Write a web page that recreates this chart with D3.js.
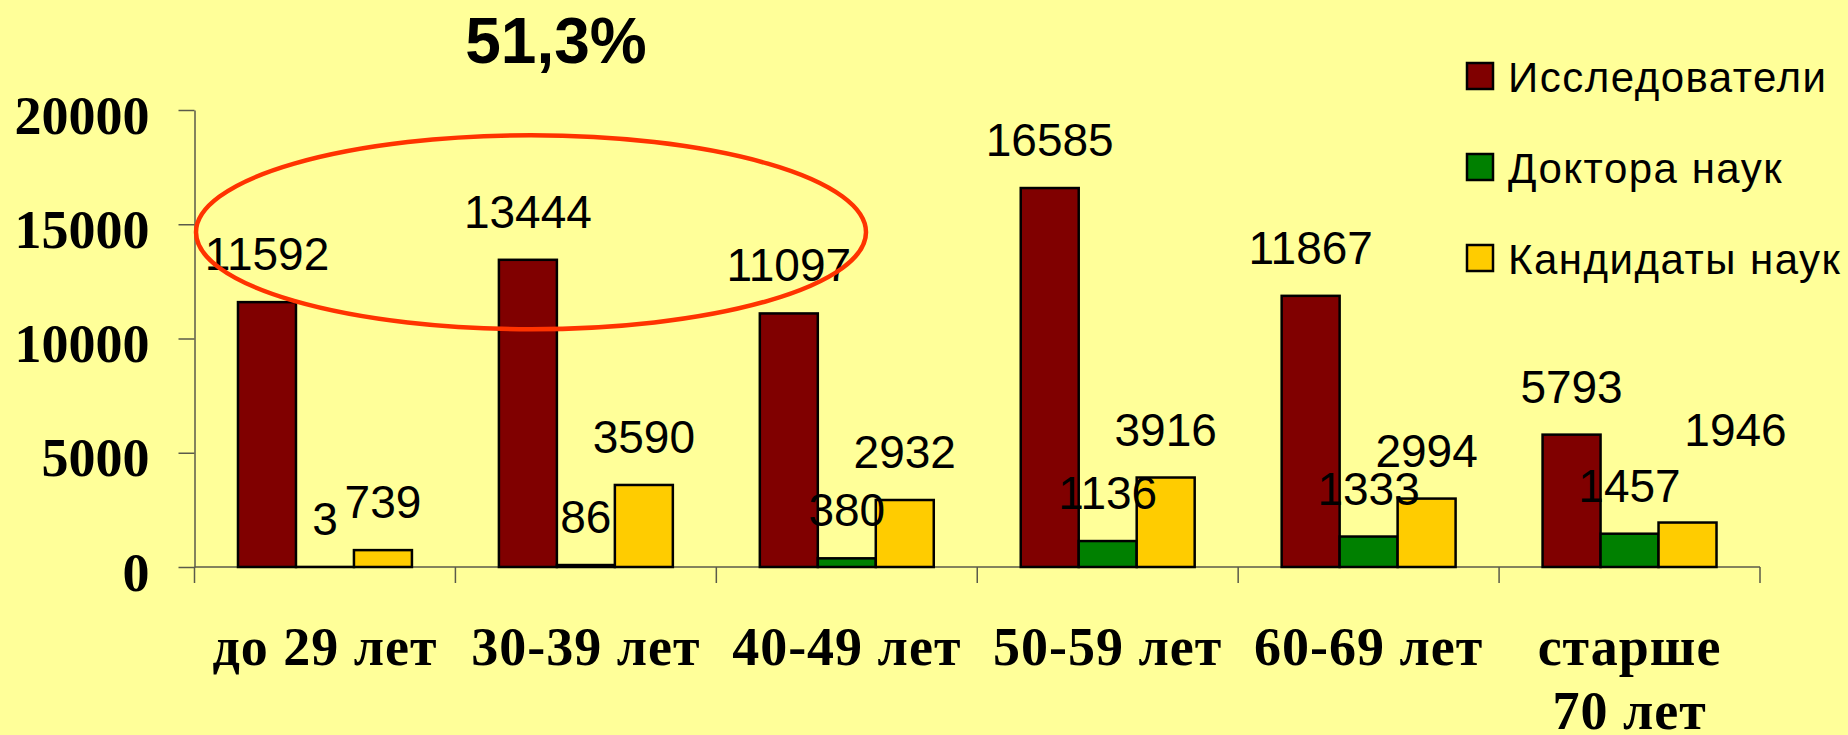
<!DOCTYPE html>
<html lang="ru">
<head>
  <meta charset="UTF-8">
  <title>Исследователи по возрасту</title>
  <script src="https://d3js.org/d3.v7.min.js"></script>
  <style>
    body {
      margin: 0;
      background: #ffff99;
    }
    .value {
      font-family: "Liberation Sans", Arial, sans-serif;
      font-size: 46px;
      text-anchor: middle;
      fill: #000;
    }
    .cat {
      font-family: "Liberation Serif", "Times New Roman", serif;
      font-weight: bold;
      font-size: 54px;
      text-anchor: middle;
      letter-spacing: 1px;
    }
    .legend text {
      font-family: "Liberation Sans", Arial, sans-serif;
      font-size: 42px;
      letter-spacing: 1.5px;
    }
  </style>
</head>
<body>
  <div id="chart"></div>

  <script>
    const categories = ["до 29 лет", "30-39 лет", "40-49 лет", "50-59 лет", "60-69 лет", "старше\n70 лет"];
    const seriesNames = ["Исследователи", "Доктора наук", "Кандидаты наук"];
    const researchers = [11592, 13444, 11097, 16585, 11867, 5793];
    const doctors = [3, 86, 380, 1136, 1333, 1457];
    const candidates = [739, 3590, 2932, 3916, 2994, 1946];
    const yTicks = [0, 5000, 10000, 15000, 20000];
    const highlight = "51,3%";

    const colors = ["#800000", "#008000", "#ffcc00"];
    const seriesValues = [researchers, doctors, candidates];

    // one label was dragged away from its bar in the original
    const labelNudge = {"2-5": [48, -45]};

    const W = 1848, H = 735;
    const svg = d3.select("#chart")
      .append("svg")
      .attr("width", W)
      .attr("height", H);

    svg.append("rect")
      .attr("width", W)
      .attr("height", H)
      .attr("fill", "#ffff99");

    const x = d3.scaleBand()
      .domain(categories)
      .range([194.5, 1760]);

    const xs = d3.scaleBand()
      .domain(seriesNames)
      .range([0, x.bandwidth()])
      .paddingInner(0)
      .paddingOuter(0.75);

    const y = d3.scaleLinear()
      .domain([0, 20000])
      .range([567, 110]);

    const axisColor = "#5a5a4a";

    // y axis
    const yAxis = svg.append("g")
      .attr("transform", `translate(${x.range()[0]},0)`)
      .call(d3.axisLeft(y)
        .tickValues(yTicks)
        .tickSize(16)
        .tickSizeOuter(0)
        .tickPadding(29)
        .tickFormat(d3.format("d")));
    yAxis.select(".domain").attr("stroke", axisColor).attr("stroke-width", 1.5);
    yAxis.selectAll(".tick line").attr("stroke", axisColor).attr("stroke-width", 1.5);
    yAxis.selectAll(".tick text")
      .attr("dy", "0.43em")
      .attr("fill", "#000")
      .style("font-family", "'Liberation Serif', 'Times New Roman', serif")
      .style("font-weight", "bold")
      .style("font-size", "54px");

    // x axis: line plus tick marks at band edges
    const xAxis = svg.append("g");
    const edges = categories.map(c => x(c)).concat([x.range()[1]]);
    xAxis.append("line")
      .attr("x1", x.range()[0])
      .attr("x2", x.range()[1])
      .attr("y1", y(0))
      .attr("y2", y(0))
      .attr("stroke", axisColor)
      .attr("stroke-width", 1.5);
    xAxis.selectAll(".xt")
      .data(edges)
      .join("line")
      .attr("class", "xt")
      .attr("x1", d => d)
      .attr("x2", d => d)
      .attr("y1", y(0))
      .attr("y2", y(0) + 16)
      .attr("stroke", axisColor)
      .attr("stroke-width", 1.5);

    // bars
    const rows = [];
    seriesValues.forEach((vals, s) => {
      vals.forEach((v, i) => rows.push({s, i, cat: categories[i], name: seriesNames[s], value: v}));
    });

    const barG = svg.append("g");
    barG.selectAll("rect")
      .data(rows)
      .join("rect")
      .attr("x", d => x(d.cat) + xs(d.name))
      .attr("width", xs.bandwidth())
      .attr("y", d => y(d.value))
      .attr("height", d => y(0) - y(d.value))
      .attr("fill", d => colors[d.s])
      .attr("stroke", "#000")
      .attr("stroke-width", 2.5);

    // value labels
    svg.append("g").selectAll("text")
      .data(rows)
      .join("text")
      .attr("class", "value")
      .attr("x", d => x(d.cat) + xs(d.name) + xs.bandwidth() / 2 + (labelNudge[d.s + "-" + d.i] || [0, 0])[0])
      .attr("y", d => y(d.value) - 32 + (labelNudge[d.s + "-" + d.i] || [0, 0])[1])
      .text(d => d.value);

    // category labels
    const catText = svg.append("g").selectAll("text")
      .data(categories)
      .join("text")
      .attr("class", "cat")
      .attr("x", d => x(d) + x.bandwidth() / 2)
      .attr("y", 665);
    catText.selectAll("tspan")
      .data(d => d.split("\n"))
      .join("tspan")
      .attr("x", function() { return this.parentNode.getAttribute("x"); })
      .attr("dy", (d, i) => i === 0 ? 0 : 64)
      .text(d => d);

    // highlight ellipse around the first three researcher values
    svg.append("ellipse")
      .attr("cx", 531)
      .attr("cy", y(14650))
      .attr("rx", 335)
      .attr("ry", 97)
      .attr("fill", "none")
      .attr("stroke", "#ff3300")
      .attr("stroke-width", 4.5);

    svg.append("text")
      .attr("x", 556)
      .attr("y", 63)
      .attr("text-anchor", "middle")
      .style("font-family", "'Liberation Sans', Arial, sans-serif")
      .style("font-weight", "bold")
      .style("font-size", "64px")
      .text(highlight);

    // legend
    const legend = svg.append("g").attr("class", "legend");
    const lg = legend.selectAll("g")
      .data(seriesNames)
      .join("g")
      .attr("transform", (d, i) => `translate(1467,${63 + i * 91})`);
    lg.append("rect")
      .attr("width", 26)
      .attr("height", 26)
      .attr("fill", (d, i) => colors[i])
      .attr("stroke", "#000")
      .attr("stroke-width", 2.5);
    lg.append("text")
      .attr("x", 41)
      .attr("y", 29)
      .text(d => d);
  </script>
</body>
</html>
